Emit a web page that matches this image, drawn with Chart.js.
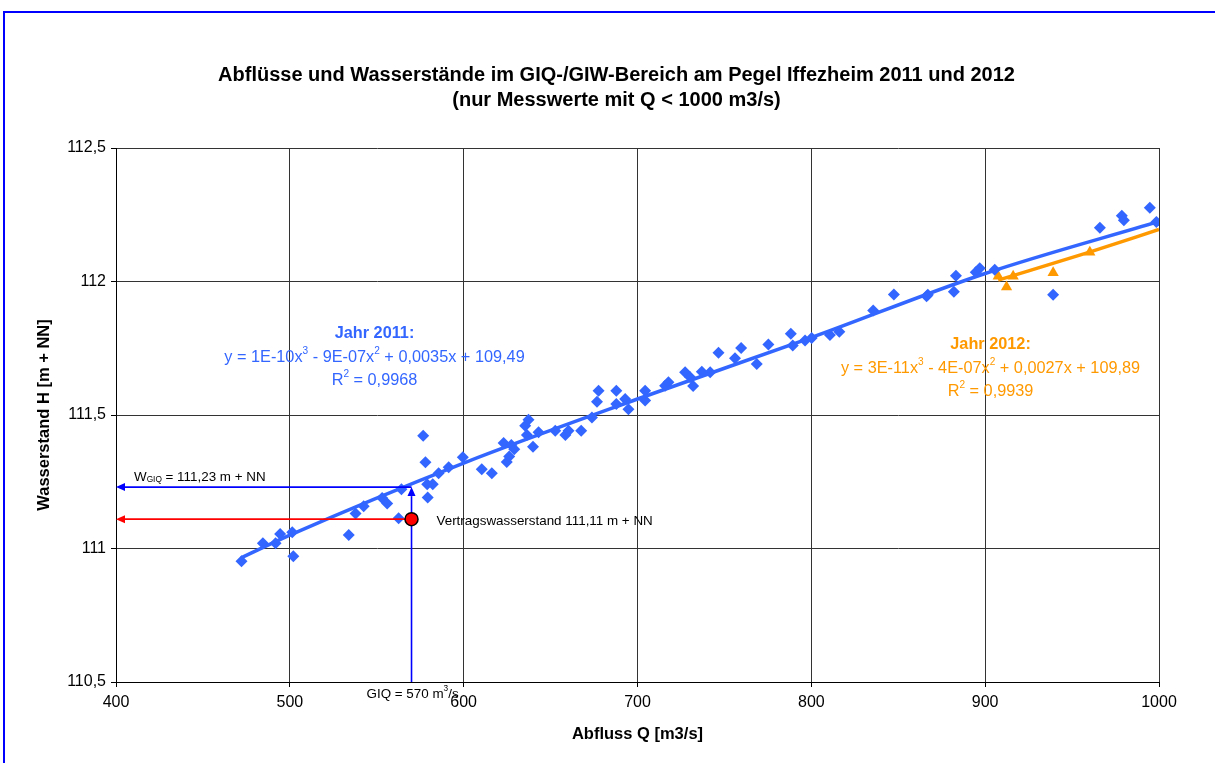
<!DOCTYPE html>
<html>
<head>
<meta charset="utf-8">
<script src="https://cdn.jsdelivr.net/npm/chart.js@4.4.0/dist/chart.umd.min.js"></script>
<style>
html, body { margin: 0; padding: 0; background: #fff; overflow: hidden; }
#wrap { position: relative; width: 1215px; height: 763px; }
#frame { position: absolute; left: 3px; top: 11px; right: -5px; bottom: -5px; border-top: 2px solid #0000ff; border-left: 2px solid #0000ff; pointer-events: none; }
canvas { position: absolute; left: 0; top: 0; }
</style>
</head>
<body>
<div id="wrap">
  <canvas id="myChart" width="1215" height="763"></canvas>
  <div id="frame"></div>
</div>
<script>
// Messwerte 2011 : Abfluss Q [m3/s] / Wasserstand H [m + NN]
var q2011 = [472.2, 484.5, 491.8, 494.4, 501.4, 502.0, 533.9, 537.8, 542.5, 553.1, 556.0, 562.6, 564.2, 576.7, 578.0, 579.0, 582.2, 579.3, 585.6, 591.4,
    599.5, 610.4, 616.2, 623.0, 624.8, 626.2, 627.4, 629.1, 635.4, 637.3, 636.4, 639.9, 643.1, 652.7, 658.5, 660.3, 667.6, 673.8, 676.7, 677.6,
    687.8, 687.8, 692.9, 694.8, 704.4, 704.4, 715.9, 717.8, 727.4, 730.3, 732.0, 737.0, 741.8, 746.6, 756.1, 759.6, 768.6, 775.3, 788.2, 789.3,
    796.4, 800.2, 810.7, 816.1, 835.6, 847.5, 866.3, 867.0, 882.0, 883.2, 894.6, 896.9, 905.5, 939.1, 966.0, 978.6, 979.8, 994.7, 998.5]
var h2011 = [110.952, 111.020, 111.020, 111.054, 111.061, 110.971, 111.051, 111.131, 111.158, 111.189, 111.169, 111.113, 111.222, 111.422, 111.323, 111.241, 111.241, 111.191, 111.282, 111.304,
    111.342, 111.297, 111.282, 111.395, 111.324, 111.345, 111.388, 111.372, 111.460, 111.482, 111.425, 111.381, 111.435, 111.441, 111.425, 111.441, 111.441, 111.491, 111.550, 111.591,
    111.591, 111.541, 111.560, 111.522, 111.591, 111.554, 111.610, 111.623, 111.660, 111.641, 111.609, 111.662, 111.660, 111.733, 111.713, 111.751, 111.691, 111.764, 111.804, 111.760,
    111.779, 111.788, 111.800, 111.812, 111.891, 111.951, 111.945, 111.950, 111.962, 112.022, 112.035, 112.050, 112.044, 111.950, 112.201, 112.246, 112.229, 112.276, 112.223]
// Messwerte 2012
var q2012 = [907.5, 912.3, 916.1, 939.1, 960.2]
var h2012 = [112.020, 111.979, 112.020, 112.033, 112.110]
// Trendlinien
var trendQ2011 = [472, 500, 600, 700, 800, 900, 1000]
var trendH2011 = [110.965, 111.05, 111.32, 111.56, 111.79, 112.03, 112.225]
var trendQ2012 = [907.5, 960, 1000]
var trendH2012 = [112.005, 112.11, 112.195]
// Achsen
var xTicks = [400, 500, 600, 700, 800, 900, 1000]
var yTicks = [110.5, 111, 111.5, 112, 112.5]
// GIQ / Vertragswasserstand
var giq = 570
var wGiq = 111.23
var wVertrag = 111.11
// Texte
var titel = ['Abflüsse und Wasserstände im GIQ-/GIW-Bereich am Pegel Iffezheim 2011 und 2012', '(nur Messwerte mit Q < 1000 m3/s)']
var text2011 = ['Jahr 2011:', [['y = 1E-10x'], ['3', 'sup'], [' - 9E-07x'], ['2', 'sup'], [' + 0,0035x + 109,49']], [['R'], ['2', 'sup'], [' = 0,9968']]]
var text2012 = ['Jahr 2012:', [['y = 3E-11x'], ['3', 'sup'], [' - 4E-07x'], ['2', 'sup'], [' + 0,0027x + 109,89']], [['R'], ['2', 'sup'], [' = 0,9939']]]
var anker2011 = [548.7, 111.804]
var anker2012 = [903.1, 111.763]

var BLAU = '#3366ff'
var ORANGE = '#ff9900'
var FONT = "'Liberation Sans', Arial, sans-serif"

function zip(a, b) {
    return a.map(function (v, i) { return { x: v, y: b[i] } })
}

// Text mit Hoch-/Tiefstellung
function richText(ctx, parts, x, y, size, color, align, bold) {
    var w = 0
    var small = size * 0.62
    var f = (bold ? 'bold ' : '') + size + 'px ' + FONT
    var fs = (bold ? 'bold ' : '') + small + 'px ' + FONT
    parts.forEach(function (p) {
        ctx.font = p[1] ? fs : f
        w += ctx.measureText(p[0]).width
    })
    var cx = align == 'center' ? x - w / 2 : x
    ctx.fillStyle = color
    ctx.textAlign = 'left'
    ctx.textBaseline = 'middle'
    parts.forEach(function (p) {
        ctx.font = p[1] ? fs : f
        var dy = p[1] == 'sup' ? -size * 0.38 : (p[1] == 'sub' ? size * 0.22 : 0)
        ctx.fillText(p[0], cx, y + dy)
        cx += ctx.measureText(p[0]).width
    })
}

function arrow(ctx, x1, y1, x2, y2, color) {
    var ang = Math.atan2(y2 - y1, x2 - x1)
    var len = 9, half = 4
    ctx.strokeStyle = color
    ctx.fillStyle = color
    ctx.lineWidth = 1.6
    ctx.beginPath()
    ctx.moveTo(x1, y1)
    ctx.lineTo(x2 - Math.cos(ang) * len, y2 - Math.sin(ang) * len)
    ctx.stroke()
    ctx.beginPath()
    ctx.moveTo(x2, y2)
    ctx.lineTo(x2 - Math.cos(ang) * len - Math.sin(ang) * half, y2 - Math.sin(ang) * len + Math.cos(ang) * half)
    ctx.lineTo(x2 - Math.cos(ang) * len + Math.sin(ang) * half, y2 - Math.sin(ang) * len - Math.cos(ang) * half)
    ctx.closePath()
    ctx.fill()
}

var titelPlugin = {
    id: 'titel',
    afterDraw: function (chart) {
        var ctx = chart.ctx
        ctx.save()
        ctx.font = 'bold 20px ' + FONT
        ctx.fillStyle = '#000'
        ctx.textAlign = 'center'
        ctx.textBaseline = 'middle'
        ctx.fillText(titel[0], chart.width / 2 + 9, 75)
        ctx.fillText(titel[1], chart.width / 2 + 9, 100)
        ctx.restore()
    }
}

var giqPlugin = {
    id: 'giq',
    afterDatasetsDraw: function (chart) {
        var ctx = chart.ctx
        var x = chart.scales.x, y = chart.scales.y
        var px = x.getPixelForValue(giq)
        var pw = y.getPixelForValue(wGiq)
        var pv = y.getPixelForValue(wVertrag)
        var left = x.getPixelForValue(x.min)
        var bottom = y.getPixelForValue(y.min)
        ctx.save()
        arrow(ctx, px, pw, left, pw, '#0000ff')
        arrow(ctx, px, bottom, px, pw, '#0000ff')
        arrow(ctx, px + 6, pv, left, pv, '#ff0000')
        ctx.beginPath()
        ctx.arc(px, pv, 6.5, 0, Math.PI * 2)
        ctx.fillStyle = '#ff0000'
        ctx.fill()
        ctx.lineWidth = 1.5
        ctx.strokeStyle = '#000'
        ctx.stroke()
        richText(ctx, [['Vertragswasserstand 111,11 m + NN']], px + 25, pv + 2, 13.4, '#000', 'left')
        richText(ctx, [['W'], ['GIQ', 'sub'], [' = 111,23 m + NN']], left + 18, pw - 10, 13.4, '#000', 'left')
        richText(ctx, [['GIQ = 570 m'], ['3', 'sup'], ['/s']], px - 45, bottom + 12, 13.4, '#000', 'left')
        // Trendlinien-Beschriftung
        var a = [[anker2011, text2011, BLAU], [anker2012, text2012, ORANGE]]
        a.forEach(function (t) {
            var cx = x.getPixelForValue(t[0][0])
            var cy = y.getPixelForValue(t[0][1])
            richText(ctx, [[t[1][0]]], cx, cy, 16.3, t[2], 'center', true)
            richText(ctx, t[1][1], cx, cy + 23.5, 16.3, t[2], 'center')
            richText(ctx, t[1][2], cx, cy + 47, 16.3, t[2], 'center')
        })
        ctx.restore()
    }
}

Chart.defaults.font.family = FONT
Chart.defaults.color = '#000'

var ctx = document.getElementById('myChart')
var chart = new Chart(ctx, {
    type: 'scatter',
    data: {
        datasets: [{
            label: 'Trend 2011',
            data: zip(trendQ2011, trendH2011),
            showLine: true,
            borderColor: BLAU,
            borderWidth: 3.5,
            pointRadius: 0,
            cubicInterpolationMode: 'monotone',
            order: 0
        }, {
            label: 'Trend 2012',
            data: zip(trendQ2012, trendH2012),
            showLine: true,
            borderColor: ORANGE,
            borderWidth: 3.5,
            pointRadius: 0,
            cubicInterpolationMode: 'monotone',
            order: 0
        }, {
            label: '2011',
            data: zip(q2011, h2011),
            pointStyle: 'rectRot',
            pointRadius: 6,
            backgroundColor: BLAU,
            borderWidth: 0,
            order: 1
        }, {
            label: '2012',
            data: zip(q2012, h2012),
            pointStyle: 'triangle',
            pointRadius: 6.5,
            backgroundColor: ORANGE,
            borderWidth: 0,
            order: 1
        }]
    },
    options: {
        responsive: false,
        animation: false,
        events: [],
        layout: { padding: { left: 0, right: 56, top: 148, bottom: 0 } },
        plugins: {
            legend: { display: false },
            tooltip: { enabled: false },
            title: { display: false }
        },
        scales: {
            x: {
                type: 'linear',
                min: 400,
                max: 1000,
                afterBuildTicks: function (axis) { axis.ticks = xTicks.map(function (v) { return { value: v } }) },
                afterFit: function (scale) { scale.height = 81 },
                grid: { color: '#333', lineWidth: 1, tickLength: 5, tickColor: '#000' },
                border: { color: '#000', width: 1 },
                ticks: {
                    font: { size: 16 },
                    padding: 6,
                    maxRotation: 0,
                    callback: function (v) { return String(v) }
                },
                title: {
                    display: true,
                    text: 'Abfluss Q [m3/s]',
                    font: { size: 16.5, weight: 'bold' },
                    padding: { top: 0, bottom: 19 }
                }
            },
            y: {
                type: 'linear',
                min: 110.5,
                max: 112.5,
                afterBuildTicks: function (axis) { axis.ticks = yTicks.map(function (v) { return { value: v } }) },
                afterFit: function (scale) { scale.width = 116 },
                grid: { color: '#333', lineWidth: 1, tickLength: 5, tickColor: '#000' },
                border: { color: '#000', width: 1 },
                ticks: {
                    font: { size: 16 },
                    padding: 5,
                    callback: function (v) { return String(v).replace('.', ',') }
                },
                title: {
                    display: true,
                    text: 'Wasserstand H [m + NN]',
                    font: { size: 16.5, weight: 'bold' },
                    padding: { top: 35, bottom: 0 }
                }
            }
        }
    },
    plugins: [titelPlugin, giqPlugin]
});
</script>
</body>
</html>
